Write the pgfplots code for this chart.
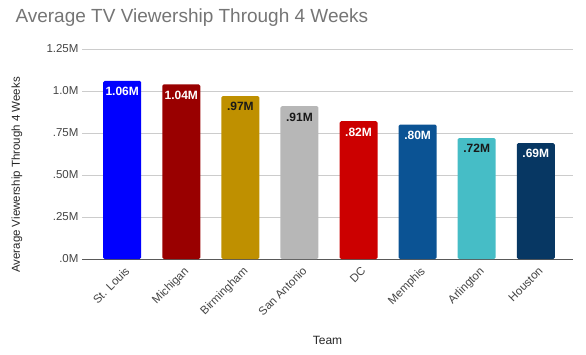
\documentclass[border=0pt]{standalone}
\usepackage{fontspec}
\setmainfont{Liberation Sans}
\usepackage{pgfplots}
\pgfplotsset{compat=1.18}
\definecolor{c1}{HTML}{0000FF}
\definecolor{c2}{HTML}{990000}
\definecolor{c3}{HTML}{BF9000}
\definecolor{c4}{HTML}{B7B7B7}
\definecolor{c5}{HTML}{CC0000}
\definecolor{c6}{HTML}{0B5394}
\definecolor{c7}{HTML}{46BDC6}
\definecolor{c8}{HTML}{073763}
\definecolor{titlegray}{HTML}{757575}
\definecolor{tickgray}{HTML}{444444}
\definecolor{gridgray}{HTML}{CCCCCC}
\begin{document}
\begin{tikzpicture}[x=1pt,y=1pt]
\path[use as bounding box] (0,0) rectangle (586,354);
\begin{axis}[
  at={(82pt,95pt)}, anchor=south west,
  scale only axis, width=491pt, height=210pt,
  xmin=-0.68, xmax=7.63, ymin=0, ymax=1.25,
  ytick={0,0.25,0.5,0.75,1,1.25},
  yticklabels={.0M,.25M,.50M,.75M,1.0M,1.25M},
  xtick={0,...,7},
  xticklabels={St. Louis,Michigan,Birmingham,San Antonio,DC,Memphis,Arlington,Houston},
  /pgf/number format/assume math mode=true,
  x tick label style={rotate=45, anchor=north east, font=\fontsize{11.5}{13}\selectfont, text=tickgray, xshift=3pt},
  y tick label style={font=\fontsize{11.5}{13}\selectfont, text=tickgray},
  tick style={draw=none},
  ymajorgrids, grid style={gridgray, line width=0.8pt},
  separate axis lines,
  axis x line*=bottom, axis y line*=left,
  x axis line style={draw=black!65, line width=0.9pt, -},
  y axis line style={draw=none},
  xlabel={Team}, ylabel={Average Viewership Through 4 Weeks},
  xlabel style={at={(axis description cs:0.5,-0.405)}, anchor=base, font=\fontsize{12}{14}\selectfont, text=black!85},
  ylabel style={at={(axis description cs:-0.1324,0.4)}, anchor=center, rotate=0, font=\fontsize{11.5}{13}\selectfont, text=black!85},
  title={Average TV Viewership Through 4 Weeks},
  title style={at={(axis description cs:-0.1426,1.1)}, anchor=base west, font=\fontsize{19}{23}\selectfont, text=titlegray},
  ybar, bar width=38pt,
  nodes near coords, point meta=explicit symbolic,
  nodes near coords style={anchor=north, yshift=-3pt, font=\bfseries\fontsize{12}{14}\selectfont},
]
\addplot[fill=c1, draw=none, bar shift=0pt, rounded corners=1.5pt, every node near coord/.append style={text=white}] coordinates {(0,1.06) [1.06M]};
\addplot[fill=c2, draw=none, bar shift=0pt, rounded corners=1.5pt, every node near coord/.append style={text=white}] coordinates {(1,1.04) [1.04M]};
\addplot[fill=c3, draw=none, bar shift=0pt, rounded corners=1.5pt, every node near coord/.append style={text=black!90}] coordinates {(2,0.97) [.97M]};
\addplot[fill=c4, draw=none, bar shift=0pt, rounded corners=1.5pt, every node near coord/.append style={text=black!90}] coordinates {(3,0.91) [.91M]};
\addplot[fill=c5, draw=none, bar shift=0pt, rounded corners=1.5pt, every node near coord/.append style={text=white}] coordinates {(4,0.82) [.82M]};
\addplot[fill=c6, draw=none, bar shift=0pt, rounded corners=1.5pt, every node near coord/.append style={text=white}] coordinates {(5,0.80) [.80M]};
\addplot[fill=c7, draw=none, bar shift=0pt, rounded corners=1.5pt, every node near coord/.append style={text=black!90}] coordinates {(6,0.72) [.72M]};
\addplot[fill=c8, draw=none, bar shift=0pt, rounded corners=1.5pt, every node near coord/.append style={text=white}] coordinates {(7,0.69) [.69M]};
\end{axis}
\end{tikzpicture}
\end{document}
